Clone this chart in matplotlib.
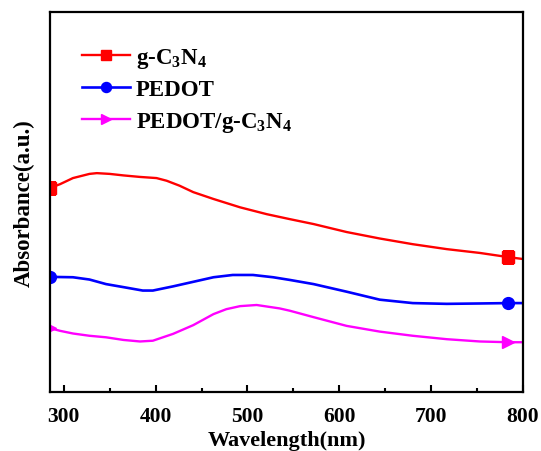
import matplotlib
matplotlib.use("Agg")
import matplotlib.pyplot as plt
from matplotlib.patches import Polygon
from matplotlib.ticker import MultipleLocator

plt.rcParams['font.family'] = ['Liberation Serif', 'DejaVu Serif']
plt.rcParams['font.weight'] = 'bold'
plt.rcParams['mathtext.fontset'] = 'custom'
plt.rcParams['mathtext.rm'] = 'Liberation Serif:bold'
plt.rcParams['mathtext.bf'] = 'Liberation Serif:bold'
plt.rcParams['mathtext.it'] = 'Liberation Serif:italic:bold'

# Data (absorbance in arbitrary units)
wl_red = [285, 296, 310, 328, 336, 350, 365, 383, 401, 412, 426, 441, 463, 492, 521, 546,
          572, 608, 644, 680, 717, 753, 784, 800]
abs_red = [0.537, 0.547, 0.563, 0.574, 0.576, 0.574, 0.570, 0.566, 0.563, 0.556, 0.543, 0.526,
           0.508, 0.486, 0.468, 0.455, 0.442, 0.421, 0.404, 0.389, 0.376, 0.366, 0.355, 0.350]

wl_blue = [285, 310, 328, 346, 365, 386, 397, 419, 441, 463, 484, 506, 528, 546,
           572, 608, 644, 680, 717, 753, 784, 800]
abs_blue = [0.303, 0.302, 0.296, 0.284, 0.276, 0.267, 0.267, 0.278, 0.290, 0.302, 0.308, 0.308,
            0.302, 0.295, 0.284, 0.264, 0.243, 0.234, 0.232, 0.233, 0.234, 0.234]

wl_mag = [285, 296, 310, 328, 346, 365, 383, 397, 419, 441, 463, 477, 492, 510, 535, 546,
          572, 608, 644, 680, 717, 753, 784, 800]
abs_mag = [0.168, 0.161, 0.154, 0.148, 0.144, 0.137, 0.133, 0.135, 0.153, 0.176, 0.205, 0.218,
           0.226, 0.229, 0.220, 0.214, 0.197, 0.174, 0.159, 0.148, 0.139, 0.133, 0.131, 0.131]

labels = ['g-C$_\\mathregular{3}$N$_\\mathregular{4}$', 'PEDOT', 'PEDOT/g-C$_\\mathregular{3}$N$_\\mathregular{4}$']
x_ticks = [300, 400, 500, 600, 700, 800]

fig = plt.figure(figsize=(5.41, 4.52), dpi=100)
ax = fig.add_axes([0.0924, 0.1305, 0.8743, 0.8407])

lines = []
lines += ax.plot(wl_red, abs_red, color='#FF0000', lw=1.7, marker='s', ms=8,
                 markevery=[0, len(wl_red) - 2], label=labels[0])
lines += ax.plot(wl_blue, abs_blue, color='#0000FF', lw=1.9, marker='o', ms=8.5,
                 markevery=[0, len(wl_blue) - 2], label=labels[1])
lines += ax.plot(wl_mag, abs_mag, color='#FF00FF', lw=1.7, marker='>', ms=9,
                 markevery=[0, len(wl_mag) - 2], label=labels[2])

# non-rectangular clip path so that markers on the edge are clipped too
clip_poly = Polygon([(0, 0), (1, 0), (1, 1), (0.5, 1), (0, 1)], closed=True,
                    transform=ax.transAxes)
for ln in lines:
    ln.set_clip_path(clip_poly)

ax.set_xlim(285, 800)
ax.set_ylim(0, 1)
ax.set_xticks(x_ticks)
ax.xaxis.set_minor_locator(MultipleLocator(50))
ax.tick_params(axis='x', which='major', direction='in', length=5, width=1.5, labelsize=15.5, pad=10)
ax.tick_params(axis='x', which='minor', direction='in', length=3, width=1.5)
ax.tick_params(axis='x', which='both', top=False)
ax.set_yticks([])
for s in ax.spines.values():
    s.set_linewidth(1.6)
    s.set_zorder(5)

ax.set_xlabel('Wavelength(nm)', fontsize=16, fontweight='bold', labelpad=3)
ax.set_ylabel('Absorbance(a.u.)', fontsize=16.5, fontweight='bold', labelpad=11)

leg = ax.legend(loc='upper left', bbox_to_anchor=(0.068, 0.91), frameon=False,
                fontsize=16.5, handlelength=2.1, handletextpad=0.25, labelspacing=0.4,
                numpoints=1, borderaxespad=0, borderpad=0, markerscale=0.85)

fig.savefig('out.png', dpi=100)
